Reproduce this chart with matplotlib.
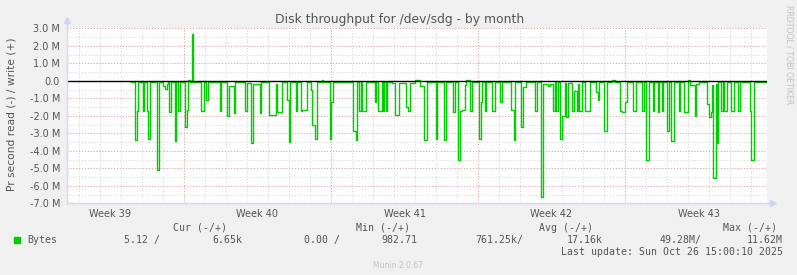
import matplotlib
matplotlib.use("Agg")
import matplotlib.pyplot as plt
from matplotlib.patches import Rectangle

# time in days since Mon 2025-09-29 00:00, value in MB/s (read negative, write positive)
days = [
    -2.52, -2.33, -2.26, -2.18, -1.95, -1.90, -1.76, -1.71, -1.64, -1.29,
    -1.21, -1.00, -0.90, -0.82, -0.76, -0.69, -0.64, -0.43, -0.36, -0.27,
    -0.21, 0.05, 0.14, 0.19, 0.29, 0.38, 0.45, 0.81, 0.95, 1.05,
    1.12, 1.71, 1.76, 2.05, 2.12, 2.36, 2.45, 2.90, 3.02, 3.21,
    3.29, 3.60, 3.67, 4.05, 4.36, 4.45, 4.67, 4.90, 5.00, 5.07,
    5.33, 5.40, 5.55, 5.62, 5.88, 6.05, 6.10, 6.24, 6.33, 6.57,
    6.64, 6.95, 7.02, 7.10, 8.05, 8.17, 8.24, 8.33, 8.43, 8.50,
    8.67, 9.10, 9.14, 9.24, 9.43, 9.48, 9.52, 9.62, 9.69, 9.90,
    10.05, 10.26, 10.55, 10.67, 10.76, 11.00, 11.24, 11.45, 11.55, 11.98,
    12.07, 12.40, 12.48, 12.81, 12.90, 13.07, 13.14, 13.24, 13.38, 13.45,
    13.64, 13.69, 14.07, 14.14, 14.21, 14.33, 14.38, 14.67, 14.81, 15.07,
    15.12, 15.57, 15.69, 15.76, 16.07, 16.14, 16.29, 16.71, 16.81, 17.02,
    17.10, 17.33, 17.43, 17.57, 17.67, 17.71, 17.81, 17.90, 17.98, 18.14,
    18.21, 18.29, 18.48, 18.55, 18.69, 18.76, 18.81, 18.95, 19.10, 19.33,
    19.60, 19.69, 19.74, 20.00, 20.14, 20.36, 20.52, 20.76, 20.86, 20.98,
    21.10, 21.38, 21.52, 21.79, 21.88, 22.02, 22.12, 22.31, 22.40, 22.57,
    22.64, 22.74, 22.83, 23.02, 23.10, 23.21, 23.31, 23.57, 23.64, 23.81,
    24.00, 24.10, 24.33, 24.40, 24.52, 24.90, 25.00, 25.07, 25.14, 25.21,
    25.31, 25.36, 25.45, 25.57, 25.67, 25.71, 25.86, 26.05, 26.19, 26.38,
    26.48, 26.93, 27.02, 27.12, 27.76,
]
bytes_mb = [
    -0.04, -3.4, -1.73, -0.04, -1.7, -0.04, -1.7, -3.3, -0.04, -5.1,
    -0.04, -0.3, -0.45, -0.2, -0.04, -1.8, -0.04, -3.45, -0.04, -1.73,
    -0.04, -2.65, -1.65, 0.05, -0.04, 2.65, -0.04, -1.7, -0.04, -1.1,
    -0.04, -1.75, -0.04, -2.0, -0.28, -1.85, -0.04, -1.73, -0.15, -3.55,
    -0.17, -1.85, -0.04, -1.95, -0.2, -1.8, -0.04, -1.1, -3.5, -0.04,
    -1.75, -0.04, -1.75, -1.65, -0.04, -0.55, -2.55, -3.3, -0.04, 0.05,
    -0.04, -3.35, -1.2, -0.04, -2.85, -3.4, -0.04, -1.7, -0.04, -1.7,
    -0.04, -1.2, -0.04, -1.75, -0.04, -1.75, -0.04, -1.7, -0.04, -0.15,
    -1.95, -0.15, -1.5, -1.7, -0.15, 0.03, -0.3, -3.4, -0.04, -3.3,
    -0.04, -3.4, -0.04, -1.8, -0.04, -4.55, -1.7, -1.65, -0.25, 0.03,
    -1.7, -0.04, -3.3, -1.2, -0.04, -1.7, -0.04, -1.7, -0.04, -1.2,
    -0.04, -1.65, -3.4, -0.04, -2.65, -0.35, -0.04, -1.75, -0.04, -6.65,
    -0.17, -0.3, -0.17, -1.75, -0.04, -1.75, -0.04, -3.3, -2.0, -0.15,
    -2.05, -0.15, -1.75, -0.6, -1.75, -0.2, -1.7, -0.04, -1.7, -0.04,
    -0.65, -1.1, -0.05, -2.85, -0.04, 0.03, -0.04, -1.7, -1.8, -1.2,
    -0.04, -1.7, -0.04, -1.75, -0.04, -4.5, -0.04, -1.7, -0.04, -1.8,
    -0.04, -1.7, -0.04, -2.87, -0.04, -3.45, -0.04, -1.75, -0.04, -1.8,
    0.05, -0.25, -2.0, -0.2, -0.04, -1.3, -2.05, -1.8, -0.25, -5.55,
    -0.2, -3.55, -0.04, -1.75, -0.04, -1.75, -0.04, -1.7, -0.04, -1.75,
    -0.04, -1.75, -4.55, -0.04, -0.04,
]

week_starts = [0, 7, 14, 21]
week_label_pos = [-3.5, 3.5, 10.5, 17.5, 24.5]
week_labels = ["Week 39", "Week 40", "Week 41", "Week 42", "Week 43"]
y_ticks = [-7, -6, -5, -4, -3, -2, -1, 0, 1, 2, 3]
y_labels = ["-7.0 M", "-6.0 M", "-5.0 M", "-4.0 M", "-3.0 M", "-2.0 M",
            "-1.0 M", "0.0", "1.0 M", "2.0 M", "3.0 M"]

legend_head = ["Cur (-/+)", "Min (-/+)", "Avg (-/+)", "Max (-/+)"]
legend_vals = ["5.12 /", "6.65k", "0.00 /", "982.71",
               "761.25k/", "17.16k", "49.28M/", "11.62M"]
last_update = "Last update: Sun Oct 26 15:00:10 2025"

W, H = 797, 275
FONT = "#555555"
AXIS = "#CFD6F8"
GREEN = "#00CC00"


def fx(x):
    return x / W


def fy(y):
    return 1 - y / H


fig = plt.figure(figsize=(W / 100, H / 100), dpi=100, facecolor="#F0F0F0")
ax = fig.add_axes([fx(67), fy(203.3), 700 / W, 175 / H], facecolor="white")

ax.set_xlim(-5.57, 27.76)
ax.set_ylim(-7, 3)

# grid: minor gray, major red
for d in range(-5, 28):
    ax.axvline(d, color="#D0D0D0", lw=0.7, ls=(0, (1, 2)), zorder=1)
for w in week_starts:
    ax.axvline(w, color="#E8A0A0", lw=0.7, ls=(0, (1, 2)), zorder=1.1)
for v in range(-14, 7):
    ax.axhline(v / 2, color="#D0D0D0", lw=0.7, ls=(0, (1, 2)), zorder=1)
for v in y_ticks:
    ax.axhline(v, color="#E8A0A0", lw=0.7, ls=(0, (1, 2)), zorder=1.1)

ax.plot(days, bytes_mb, drawstyle="steps-post", color=GREEN, lw=1.0, zorder=3)
ax.axhline(0, color="black", lw=1.0, zorder=4)

for s in ax.spines.values():
    s.set_visible(False)
ax.plot([0, 0], [0, 1.05], transform=ax.transAxes, color=AXIS, lw=1, clip_on=False, zorder=5)
ax.plot([0, 1.008], [0, 0], transform=ax.transAxes, color=AXIS, lw=1, clip_on=False, zorder=5)
ax.plot([0], [1.05], marker="^", ms=4, color=AXIS, transform=ax.transAxes, clip_on=False)
ax.plot([1.008], [0], marker=">", ms=4, color=AXIS, transform=ax.transAxes, clip_on=False)

ax.set_yticks(y_ticks)
ax.set_yticklabels(y_labels)
ax.set_xticks(week_label_pos)
ax.set_xticklabels(week_labels)
ax.tick_params(axis="both", length=0, labelsize=7, colors=FONT)
ax.tick_params(axis="y", pad=5)
ax.tick_params(axis="x", pad=4)

fig.text(fx(400), fy(19), "Disk throughput for /dev/sdg - by month",
         ha="center", va="center", fontsize=8.9, color=FONT)
fig.text(fx(12), fy(114), "Pr second read (-) / write (+)", rotation=90,
         ha="center", va="center", fontsize=7.7, color=FONT)
fig.text(fx(789), fy(5), "RRDTOOL / TOBI OETIKER", rotation=270,
         ha="center", va="top", fontsize=5.6, color="#C0C0C0")
fig.text(fx(398), fy(265), "Munin 2.0.67", ha="center", va="center",
         fontsize=5.5, color="#C4C4C4")

mono = dict(family="DejaVu Sans Mono", fontsize=7.1, color=FONT, va="center")
for txt, xr in zip(legend_head, [227, 410, 593, 777]):
    fig.text(fx(xr), fy(227.7), txt, ha="right", **mono)
for txt, xr in zip(legend_vals, [160, 242, 340, 417, 523, 603, 702, 783]):
    fig.text(fx(xr), fy(240), txt, ha="right", **mono)
fig.text(fx(27), fy(240), "Bytes", ha="left", **mono)
fig.text(fx(783), fy(251.7), last_update, ha="right", **mono)
fig.patches.append(Rectangle((fx(14), fy(242.5)), 5.5 / W, 5.5 / H,
                             transform=fig.transFigure, color=GREEN))

fig.savefig("out.png", dpi=100, facecolor=fig.get_facecolor())
